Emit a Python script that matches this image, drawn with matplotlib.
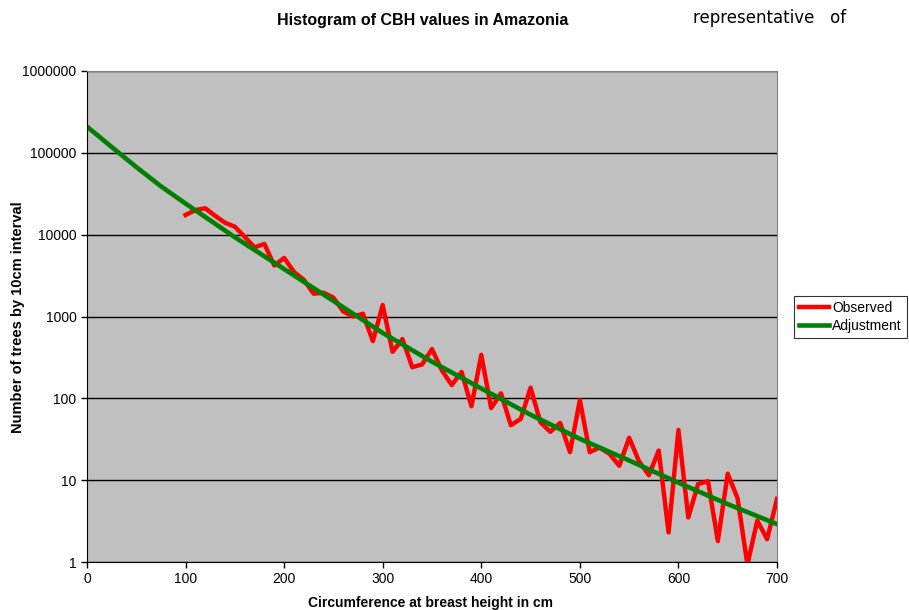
import matplotlib.pyplot as plt
import numpy as np

plt.rcParams['font.family'] = ['Liberation Sans', 'DejaVu Sans']

# Observed counts per 10 cm CBH class
cbh_obs = list(range(100, 701, 10))
n_obs = [17400, 20000, 21000, 17000, 14000, 12500, 9400, 7000, 7700, 4200,
         5200, 3500, 2800, 1900, 1950, 1700, 1150, 1000, 1080, 500,
         1380, 370, 530, 240, 260, 400, 220, 145, 210, 80,
         340, 76, 115, 47, 56, 135, 51, 39, 50, 22,
         95, 22, 25, 21, 15, 33, 17, 11.5, 23, 2.3,
         41, 3.5, 9, 9.7, 1.8, 12, 6, 0.93, 3.2, 1.9,
         5.9]

# Fitted curve
cbh_fit = [0, 25, 50, 75, 100, 150, 200, 250, 300, 350, 400, 450, 500, 550, 600, 650, 700]
n_fit = [209000, 118000, 67000, 39000, 24000, 9300, 3800, 1550, 630, 280,
         132, 63, 32, 17.4, 9.3, 5.1, 2.9]

series_names = ['Observed', 'Adjustment']
x_ticks = [0, 100, 200, 300, 400, 500, 600, 700]
y_ticks = [1, 10, 100, 1000, 10000, 100000, 1000000]

fig = plt.figure(figsize=(9.09, 6.10), dpi=100)
ax = fig.add_axes([87 / 909, 48 / 610, 690 / 909, 491 / 610])
ax.set_facecolor('#C0C0C0')

ax.plot(cbh_obs, n_obs, color='#FF0000', linewidth=3.2, label=series_names[0])
ax.plot(cbh_fit, n_fit, color='#008000', linewidth=3.3, label=series_names[1])

ax.set_yscale('log')
ax.set_xlim(0, 700)
ax.set_ylim(1, 1000000)
ax.set_xticks(x_ticks)
ax.set_xticklabels([str(v) for v in x_ticks])
ax.set_yticks(y_ticks)
ax.set_yticklabels([str(v) for v in y_ticks])
ax.minorticks_off()
ax.tick_params(direction='out', length=4, width=1, labelsize=10, colors='black')
ax.yaxis.grid(True, color='black', linewidth=1)
ax.set_axisbelow(True)

for side in ['top', 'right']:
    ax.spines[side].set_color('#808080')
ax.spines['left'].set_color('black')
ax.spines['bottom'].set_color('black')

fig.text(423 / 909, 1 - 20 / 610, 'Histogram of CBH values in Amazonia',
         ha='center', va='center', fontsize=11.5, fontweight='bold')
fig.text(430 / 909, 1 - 603 / 610, 'Circumference at breast height in cm',
         ha='center', va='center', fontsize=10, fontweight='bold')
fig.text(18 / 909, 1 - 317 / 610, 'Number of trees by 10cm interval',
         ha='center', va='center', rotation=90, fontsize=10.5, fontweight='bold')

# text clipped from the surrounding document
fig.text(693 / 909, 1 - 18 / 610, 'representative   of', family='DejaVu Sans',
         ha='left', va='center', fontsize=12)

leg = fig.legend(loc='center left', bbox_to_anchor=(794 / 909, 1 - 317 / 610),
                 frameon=True, fancybox=False, fontsize=10, handlelength=2.2,
                 handletextpad=0.2, borderpad=0.35, labelspacing=0.25,
                 borderaxespad=0)
leg.get_frame().set_edgecolor('black')
leg.get_frame().set_linewidth(0.8)

fig.savefig('out.png', dpi=100)
